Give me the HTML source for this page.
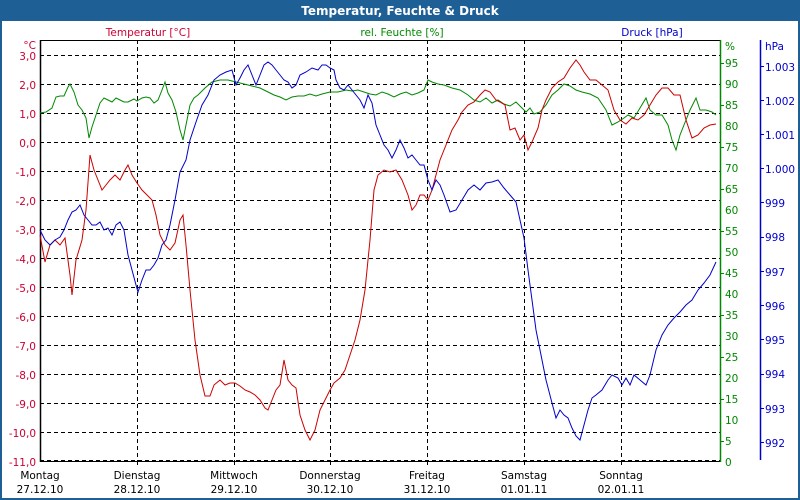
<!DOCTYPE html>
<html><head><meta charset="utf-8"><style>
html,body{margin:0;padding:0;width:800px;height:500px;overflow:hidden;background:#fff}
svg{display:block;font-family:"DejaVu Sans",sans-serif}
</style></head><body>
<svg width="800" height="500" viewBox="0 0 800 500" xmlns="http://www.w3.org/2000/svg">
<rect x="0" y="0" width="800" height="500" fill="#1e5f96"/>
<rect x="2" y="21" width="796" height="477" fill="#fff"/>
<text x="400" y="15" text-anchor="middle" fill="#fff" font-weight="bold" font-size="12">Temperatur, Feuchte &amp; Druck</text>
<text x="148" y="36" text-anchor="middle" fill="#cc0033" font-size="10.5">Temperatur [°C]</text>
<text x="402" y="36" text-anchor="middle" fill="#008800" font-size="10.5">rel. Feuchte [%]</text>
<text x="652" y="36" text-anchor="middle" fill="#0000cc" font-size="10.5">Druck [hPa]</text>
<g stroke="#000" stroke-dasharray="4,3" stroke-width="1">
<line x1="40" y1="55.5" x2="720" y2="55.5"/><line x1="40" y1="84.5" x2="720" y2="84.5"/><line x1="40" y1="113.5" x2="720" y2="113.5"/><line x1="40" y1="142.5" x2="720" y2="142.5"/><line x1="40" y1="171.5" x2="720" y2="171.5"/><line x1="40" y1="200.5" x2="720" y2="200.5"/><line x1="40" y1="229.5" x2="720" y2="229.5"/><line x1="40" y1="258.5" x2="720" y2="258.5"/><line x1="40" y1="287.5" x2="720" y2="287.5"/><line x1="40" y1="316.5" x2="720" y2="316.5"/><line x1="40" y1="345.5" x2="720" y2="345.5"/><line x1="40" y1="374.5" x2="720" y2="374.5"/><line x1="40" y1="403.5" x2="720" y2="403.5"/><line x1="40" y1="432.5" x2="720" y2="432.5"/><line x1="40" y1="460.5" x2="720" y2="460.5"/>
<line x1="137.5" y1="40" x2="137.5" y2="461"/><line x1="234.5" y1="40" x2="234.5" y2="461"/><line x1="330.5" y1="40" x2="330.5" y2="461"/><line x1="427.5" y1="40" x2="427.5" y2="461"/><line x1="524.5" y1="40" x2="524.5" y2="461"/><line x1="621.5" y1="40" x2="621.5" y2="461"/>
</g>
<line x1="40" y1="40.5" x2="720" y2="40.5" stroke="#000"/>
<line x1="40.5" y1="40" x2="40.5" y2="462" stroke="#000" stroke-width="1.5"/>
<line x1="40" y1="461.5" x2="720" y2="461.5" stroke="#000"/>
<g stroke="#000"><line x1="137.5" y1="461" x2="137.5" y2="465"/><line x1="234.5" y1="461" x2="234.5" y2="465"/><line x1="330.5" y1="461" x2="330.5" y2="465"/><line x1="427.5" y1="461" x2="427.5" y2="465"/><line x1="524.5" y1="461" x2="524.5" y2="465"/><line x1="621.5" y1="461" x2="621.5" y2="465"/></g>
<line x1="720.5" y1="40" x2="720.5" y2="462" stroke="#008800" stroke-width="1.5"/>
<line x1="760.5" y1="40" x2="760.5" y2="460" stroke="#0000cc" stroke-width="1.5"/>
<g fill="#cc0033" font-size="10.5" text-anchor="end">
<text x="36" y="49">°C</text>
<text x="36" y="60">3,0</text><text x="36" y="89">2,0</text><text x="36" y="118">1,0</text><text x="36" y="147">0,0</text><text x="36" y="176">-1,0</text><text x="36" y="205">-2,0</text><text x="36" y="234">-3,0</text><text x="36" y="263">-4,0</text><text x="36" y="292">-5,0</text><text x="36" y="321">-6,0</text><text x="36" y="350">-7,0</text><text x="36" y="379">-8,0</text><text x="36" y="408">-9,0</text><text x="36" y="437">-10,0</text><text x="36" y="466">-11,0</text>
</g>
<g fill="#008800" font-size="10.5">
<text x="725" y="50">%</text>
<text x="725" y="67">95</text><text x="725" y="88">90</text><text x="725" y="109">85</text><text x="725" y="130">80</text><text x="725" y="151">75</text><text x="725" y="172">70</text><text x="725" y="193">65</text><text x="725" y="214">60</text><text x="725" y="235">55</text><text x="725" y="256">50</text><text x="725" y="277">45</text><text x="725" y="298">40</text><text x="725" y="319">35</text><text x="725" y="340">30</text><text x="725" y="361">25</text><text x="725" y="382">20</text><text x="725" y="403">15</text><text x="725" y="424">10</text><text x="725" y="445">5</text><text x="725" y="466">0</text>
</g>
<g stroke="#008800"><line x1="720" y1="63.5" x2="724" y2="63.5"/><line x1="720" y1="105.5" x2="724" y2="105.5"/><line x1="720" y1="147.5" x2="724" y2="147.5"/><line x1="720" y1="189.5" x2="724" y2="189.5"/><line x1="720" y1="231.5" x2="724" y2="231.5"/><line x1="720" y1="273.5" x2="724" y2="273.5"/><line x1="720" y1="315.5" x2="724" y2="315.5"/><line x1="720" y1="357.5" x2="724" y2="357.5"/><line x1="720" y1="399.5" x2="724" y2="399.5"/><line x1="720" y1="441.5" x2="724" y2="441.5"/></g>
<g fill="#0000cc" font-size="10.5">
<text x="765" y="50">hPa</text>
<text x="765" y="71">1.003</text><text x="765" y="105">1.002</text><text x="765" y="139">1.001</text><text x="765" y="173">1.000</text><text x="765" y="207">999</text><text x="765" y="241">998</text><text x="765" y="276">997</text><text x="765" y="310">996</text><text x="765" y="344">995</text><text x="765" y="378">994</text><text x="765" y="413">993</text><text x="765" y="447">992</text>
</g>
<g stroke="#0000cc"><line x1="760" y1="66.5" x2="764" y2="66.5"/><line x1="760" y1="100.5" x2="764" y2="100.5"/><line x1="760" y1="134.5" x2="764" y2="134.5"/><line x1="760" y1="168.5" x2="764" y2="168.5"/><line x1="760" y1="202.5" x2="764" y2="202.5"/><line x1="760" y1="237.5" x2="764" y2="237.5"/><line x1="760" y1="271.5" x2="764" y2="271.5"/><line x1="760" y1="305.5" x2="764" y2="305.5"/><line x1="760" y1="339.5" x2="764" y2="339.5"/><line x1="760" y1="374.5" x2="764" y2="374.5"/><line x1="760" y1="408.5" x2="764" y2="408.5"/><line x1="760" y1="442.5" x2="764" y2="442.5"/></g>
<g fill="#000" font-size="10.5" text-anchor="middle">
<text x="40" y="479">Montag</text><text x="40" y="493">27.12.10</text>
<text x="137" y="479">Dienstag</text><text x="137" y="493">28.12.10</text>
<text x="234" y="479">Mittwoch</text><text x="234" y="493">29.12.10</text>
<text x="330" y="479">Donnerstag</text><text x="330" y="493">30.12.10</text>
<text x="427" y="479">Freitag</text><text x="427" y="493">31.12.10</text>
<text x="524" y="479">Samstag</text><text x="524" y="493">01.01.11</text>
<text x="621" y="479">Sonntag</text><text x="621" y="493">02.01.11</text>
</g>
<polyline fill="none" stroke="#008800" stroke-width="1" points="40,113 46,112 52,108 56,97 60,96 64,96 68,87 70,84 74,92 78,105 82,110 86,118 89,138 92,127 96,115 100,103 104,98 108,100 112,102 116,98 120,100 124,102 128,102 134,99 137,101 142,98 146,97 150,98 154,103 158,100 162,90 165,82 168,93 172,100 176,112 180,130 183,140 186,125 190,105 194,98 198,95 205,88 212,82 220,80 228,80 236,82 244,84 252,86 260,88 268,92 274,95 280,97 286,100 292,97 298,96 304,96 310,94 316,96 322,94 330,92 338,92 346,90 352,91 358,90 364,92 370,94 376,95 382,92 388,94 394,97 400,94 406,92 412,95 418,93 424,90 428,80 432,82 438,84 444,85 452,88 460,90 468,95 474,100 480,102 486,98 492,103 498,100 504,104 510,106 516,102 520,106 526,112 530,108 534,114 540,112 546,105 552,95 558,90 564,84 570,86 576,90 582,92 590,94 598,98 606,110 612,125 618,122 624,118 628,115 634,118 640,108 646,98 650,110 656,115 662,115 668,125 672,140 676,150 680,135 684,125 690,110 696,98 700,110 706,110 712,112 716,115"/>
<polyline fill="none" stroke="#cc0000" stroke-width="1" points="40,235 45,262 50,245 55,240 60,245 65,238 70,275 72,295 76,260 82,240 86,210 90,155 94,170 98,180 102,190 106,185 110,180 115,175 120,180 125,170 128,165 132,175 137,183 142,190 147,195 152,200 156,215 160,235 165,245 170,250 175,243 180,220 183,215 186,245 190,290 195,340 200,375 205,396 210,396 214,385 220,380 225,385 230,383 235,383 240,386 245,390 250,392 255,395 260,400 265,408 268,410 272,400 276,390 280,385 284,360 288,380 292,385 296,388 300,415 305,430 310,440 315,430 320,410 325,400 330,390 334,383 340,378 345,370 350,355 355,340 360,320 365,290 370,240 374,190 378,175 384,170 390,172 396,170 402,180 408,195 412,210 416,205 420,195 424,195 428,200 432,190 436,175 440,160 446,145 452,130 458,120 462,112 468,105 474,102 480,95 485,90 490,92 496,100 500,102 505,105 510,130 515,128 520,140 524,135 528,150 532,142 538,128 542,110 546,100 552,88 558,82 564,78 570,68 576,60 580,65 584,72 590,80 596,80 602,85 608,90 614,110 620,120 626,124 632,118 638,120 644,115 650,105 656,95 662,88 668,88 674,95 680,95 686,120 692,138 698,135 704,128 710,125 716,124"/>
<polyline fill="none" stroke="#0000cc" stroke-width="1" points="40,230 45,240 50,245 55,240 60,237 64,230 68,220 72,212 76,210 80,205 84,215 88,220 92,225 96,225 100,222 104,230 108,228 112,235 116,225 120,222 124,230 128,255 132,270 136,285 138,292 142,280 146,270 150,270 154,265 158,258 162,245 166,240 170,225 175,200 180,172 186,160 190,140 196,122 202,105 208,95 214,80 220,75 226,72 232,70 236,85 240,78 244,70 248,65 252,75 256,85 260,75 264,65 268,62 272,65 276,70 280,75 284,80 288,82 292,88 296,85 300,75 306,72 312,68 318,70 322,65 326,65 330,68 334,70 336,80 340,88 344,90 348,85 352,90 356,95 360,100 364,108 368,95 372,103 376,125 380,135 384,145 388,150 392,158 396,150 400,140 404,148 408,158 412,155 416,160 420,165 424,165 428,180 432,190 436,180 440,185 444,195 450,212 456,210 462,200 468,190 474,185 480,190 486,183 492,182 498,180 504,188 510,195 516,202 520,220 524,238 528,270 532,300 536,330 540,350 546,380 552,403 556,418 560,410 564,415 568,418 572,428 576,436 580,440 584,425 588,410 592,398 596,395 602,390 608,380 612,375 618,378 622,385 626,378 630,385 634,375 640,380 646,385 650,375 656,350 662,335 668,325 674,318 680,312 686,305 692,300 698,290 704,283 710,275 716,262"/>
</svg>
</body></html>
